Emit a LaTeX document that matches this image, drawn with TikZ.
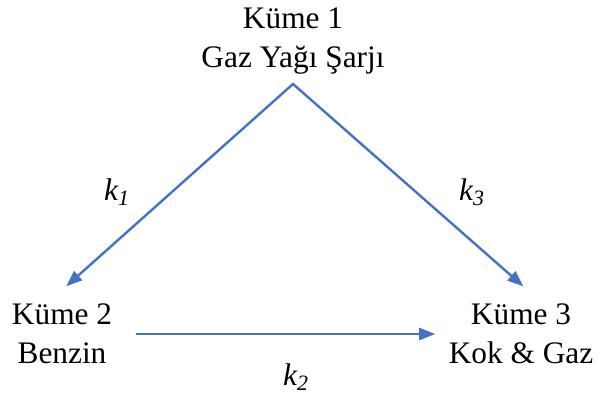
\documentclass[tikz,border=0pt]{standalone}
\usepackage{fontspec}
\setmainfont{Liberation Serif}
\usetikzlibrary{arrows.meta,positioning}
\definecolor{okmavi}{RGB}{68,114,196}

\begin{document}
\begin{tikzpicture}[x=0.75pt,y=-0.75pt,
  kume/.style={align=center,inner sep=3pt,font=\fontsize{23.5}{29.5}\selectfont},
  hiz/.style={font=\fontsize{23.5}{27}\selectfont\itshape},
  ok/.style={-{Triangle[length=12pt,width=9pt]},draw=okmavi,line width=1.8pt}]
\useasboundingbox (0,0) rectangle (598,399);
\node[kume] (n1) at (293,41) {Küme 1\\Gaz Yağı Şarjı};
\node[kume] (n2) at (62,334) {Küme 2\\Benzin};
\node[kume] (n3) at (521,334) {Küme 3\\Kok \& Gaz};
\node[hiz] (r1) at (117,192) {k\textsubscript{1}};
\node[hiz] (r3) at (472,192) {k\textsubscript{3}};
\node[hiz] (r2) at (296,377) {k\textsubscript{2}};
\coordinate (tepe) at ([yshift=-4pt]n1.south);
% k1 ve k3 tek yol, tepede sivri birlesim
\draw[ok,{Triangle[length=12pt,width=9pt]}-{Triangle[length=12pt,width=9pt]},
  shorten <=15pt,shorten >=15pt,miter limit=20]
  ([xshift=-8pt]n2.north) -- (tepe) -- ([xshift=13pt]n3.north);
\draw[ok,shorten <=15pt,shorten >=7pt] (n2.east) -- (n3.west);
\end{tikzpicture}
\end{document}
